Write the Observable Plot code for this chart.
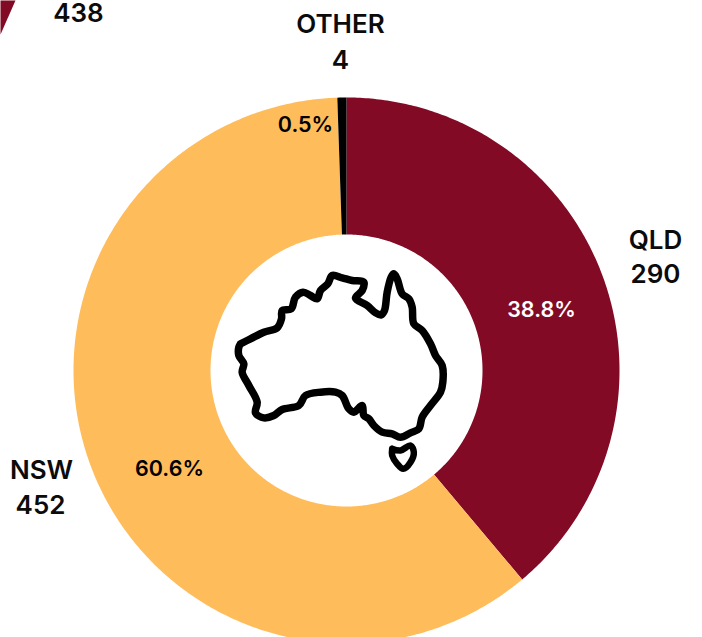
<!DOCTYPE html>
<html>
<head>
<meta charset="utf-8">
<script src="https://cdn.jsdelivr.net/npm/d3@7"></script>
<script src="https://cdn.jsdelivr.net/npm/@observablehq/plot@0.6"></script>
<style>
html,body{margin:0;padding:0;background:#fff;overflow:hidden}
svg{display:block}
</style>
</head>
<body>
<div id="chart"></div>
<script>
const categories = ["QLD", "NSW", "OTHER"];
const values = [290, 452, 4];
const percents = ["38.8%", "60.6%", "0.5%"];
const colors = ["#820a24", "#ffbc5a", "#000000"];
const clippedValue = "438";

// Hand-traced icon outlines (icon units, 3 units = 1 px)
const mainland = [[60,265],[90,250],[130,230],[170,217],[183,190],[185,165],[212,160],[225,125],[248,110],[270,120],[290,130],[300,105],[322,85],[335,60],[365,67],[395,75],[430,80],[425,105],[405,128],[440,150],[465,172],[482,178],[492,165],[500,110],[512,65],[520,55],[530,70],[545,115],[565,130],[575,155],[580,205],[605,225],[630,265],[645,300],[665,330],[667,380],[660,410],[630,450],[605,485],[595,520],[570,532],[540,545],[515,535],[485,530],[460,510],[445,490],[430,480],[425,450],[400,470],[385,460],[365,420],[345,410],[300,410],[255,420],[235,450],[185,462],[160,480],[130,487],[105,472],[110,440],[85,390],[65,350],[70,325],[55,300],[55,275],[60,265]];
const tasmania = [[515,580],[540,585],[570,570],[580,590],[570,620],[548,640],[530,625],[515,600],[515,580]];
const clippedSlice = [[-346,-370],[-331,-370],[-346,-336]];

const W = 702, H = 637, cx = 346, cy = 370, R = 273, r = 136;
const total = d3.sum(values);
let acc = 0;
const slicePts = [];
categories.forEach((c, i) => {
  const a0 = acc / total * 2 * Math.PI, a1 = (acc + values[i]) / total * 2 * Math.PI;
  acc += values[i];
  const n = Math.max(2, Math.ceil((a1 - a0) / 0.01));
  const outer = d3.range(n + 1).map(k => a0 + (a1 - a0) * k / n);
  for (const a of outer) slicePts.push({c, x: R * Math.sin(a), y: -R * Math.cos(a)});
  for (const a of outer.slice().reverse()) slicePts.push({c, x: r * Math.sin(a), y: -r * Math.cos(a)});
});
const icon = pts => pts.map(([u, v]) => ({x: 220 - cx + u / 3, y: 255 - cy + v / 3}));
const colorOf = d => colors[categories.indexOf(d.c)];

const nameAnchors = [[655,240],[41,470],[340,24]];
const valueAnchors = [[655,274],[40,505],[340,60]];
const pctAnchors = [[541,310],[169,469],[305,125]];
const pctFill = ["#ffffff", "#000000", "#000000"];
const at = (list, labels, extra = {}) => list.map(([x, y], i) => ({x: x - cx, y: y - cy, t: labels[i], f: extra[i]}));
const textStyle = {x: "x", y: "y", text: "t", fontFamily: "Inter", fontWeight: 600, textAnchor: "middle", lineAnchor: "middle"};

const chart = Plot.plot({
  width: W, height: H,
  margin: 0,
  x: {domain: [-cx, W - cx], range: [0, W], axis: null},
  y: {domain: [-cy, H - cy], range: [0, H], axis: null},
  style: {background: "#fff"},
  marks: [
    Plot.line(slicePts, {x: "x", y: "y", z: "c", fill: colorOf, stroke: "none", curve: "linear-closed"}),
    Plot.line(clippedSlice.map(([x, y]) => ({x, y})), {x: "x", y: "y", fill: colors[0], stroke: "none", curve: "linear-closed"}),
    Plot.line(icon(mainland), {x: "x", y: "y", stroke: "#000", strokeWidth: 7.5, curve: "catmull-rom", strokeLinejoin: "round", strokeLinecap: "round"}),
    Plot.line(icon(tasmania), {x: "x", y: "y", stroke: "#000", strokeWidth: 6.5, curve: "catmull-rom", strokeLinejoin: "round", strokeLinecap: "round"}),
    Plot.text(at(nameAnchors, categories), {...textStyle, fontSize: 26, fill: "#0b0b0b"}),
    Plot.text(at(valueAnchors, values.map(String)), {...textStyle, fontSize: 26, fill: "#0b0b0b"}),
    Plot.text(at([[78,13]], [clippedValue]), {...textStyle, fontSize: 26, fill: "#0b0b0b"}),
    Plot.text(at(pctAnchors, percents, pctFill), {...textStyle, fontSize: 21.5, fill: "f"})
  ]
});
document.getElementById("chart").append(chart);
</script>
</body>
</html>
